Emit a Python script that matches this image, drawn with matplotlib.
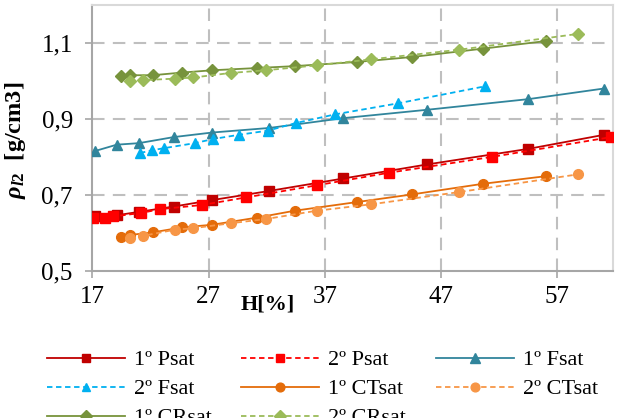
import matplotlib
matplotlib.use("Agg")
import matplotlib.pyplot as plt
from matplotlib.lines import Line2D

plt.rcParams['font.family'] = ['Liberation Serif', 'DejaVu Serif']
plt.rcParams['mathtext.fontset'] = 'custom'
plt.rcParams['mathtext.it'] = 'Liberation Serif:italic:bold'
plt.rcParams['mathtext.rm'] = 'Liberation Serif:bold'
plt.rcParams['mathtext.bf'] = 'Liberation Serif:bold'

# ---- data ----
x_1PF = [17.2, 19.1, 21.0, 24.0, 27.3, 32.2, 38.6, 45.8, 54.5, 61.0]
psat_1 = [0.643, 0.646, 0.655, 0.669, 0.686, 0.710, 0.743, 0.780, 0.821, 0.858]
fsat_1 = [0.815, 0.832, 0.836, 0.852, 0.864, 0.876, 0.902, 0.924, 0.952, 0.980]

x_2P = [17.1, 18.1, 18.8, 21.2, 22.8, 26.4, 30.2, 36.3, 42.5, 51.4, 61.6]
psat_2 = [0.640, 0.638, 0.643, 0.652, 0.662, 0.673, 0.693, 0.725, 0.758, 0.800, 0.852]

x_2F = [21.1, 22.1, 23.2, 25.8, 27.4, 29.6, 32.1, 34.5, 37.9, 43.3, 50.8]
fsat_2 = [0.810, 0.817, 0.823, 0.836, 0.847, 0.858, 0.869, 0.889, 0.912, 0.941, 0.986]

x_1CC = [19.5, 20.2, 22.2, 24.7, 27.3, 31.2, 34.4, 39.8, 44.5, 50.6, 56.0]
ctsat_1 = [0.588, 0.594, 0.601, 0.614, 0.621, 0.640, 0.658, 0.681, 0.701, 0.729, 0.749]
crsat_1 = [1.012, 1.015, 1.015, 1.022, 1.028, 1.034, 1.039, 1.050, 1.063, 1.085, 1.105]

x_2CC = [20.2, 21.4, 24.1, 25.7, 28.9, 31.9, 36.3, 41.0, 48.5, 58.8]
ctsat_2 = [0.585, 0.592, 0.608, 0.612, 0.625, 0.636, 0.658, 0.675, 0.707, 0.754]
crsat_2 = [1.000, 1.002, 1.006, 1.009, 1.021, 1.028, 1.041, 1.057, 1.082, 1.124]

x_ticks = [17, 27, 37, 47, 57]
y_ticks = [0.5, 0.7, 0.9, 1.1]
y_tick_labels = ['0,5', '0,7', '0,9', '1,1']

series = [
    ('1º Psat', x_1PF, psat_1, '#C00000', '-', 's', 7),
    ('2º Psat', x_2P, psat_2, '#FF0000', '--', 's', 7),
    ('1º Fsat', x_1PF, fsat_1, '#31859C', '-', '^', 7.5),
    ('2º Fsat', x_2F, fsat_2, '#00B0F0', '--', '^', 7),
    ('1º CTsat', x_1CC, ctsat_1, '#E46C0A', '-', 'o', 7),
    ('2º CTsat', x_2CC, ctsat_2, '#F79646', '--', 'o', 7),
    ('1º CRsat', x_1CC, crsat_1, '#77933C', '-', 'D', 6.5),
    ('2º CRsat', x_2CC, crsat_2, '#9BBB59', '--', 'D', 6.5),
]

fig = plt.figure(figsize=(6.21, 4.18), dpi=100)
ax = fig.add_axes([92.3/621, 1-270.7/418, (613.3-92.3)/621, (270.7-5)/418])

handles = {}
for name, xs, ys, col, ls, mk, ms in series:
    dash = dict(dashes=(3, 2)) if ls == '--' else {}
    ax.plot(xs, ys, color=col, linestyle=ls, lw=1.3, marker=mk,
            markersize=ms, markerfacecolor=col, markeredgecolor=col,
            clip_on=True, zorder=3, **dash)
    handles[name] = Line2D([0], [0], color=col, linestyle=ls, lw=1.3, marker=mk,
                           markersize=ms*0.9, markerfacecolor=col,
                           markeredgecolor=col, **dash)

ax.set_xlim(17, 61.8)
ax.set_ylim(0.5, 1.2)
ax.set_xticks(x_ticks)
ax.set_xticklabels([str(t) for t in x_ticks])
ax.set_yticks(y_ticks)
ax.set_yticklabels(y_tick_labels)
ax.tick_params(axis='both', labelsize=18, length=5, width=1.2, color='#a6a6a6',
               direction='out')
ax.tick_params(axis='y', pad=9)
ax.tick_params(axis='x', pad=6)

for t in [27, 37, 47, 57]:
    ax.axvline(t, color='#bfbfbf', lw=1.5, dashes=(6, 4), zorder=1)
for t in [0.7, 0.9, 1.1]:
    ax.axhline(t, color='#bfbfbf', lw=1.5, dashes=(6, 4), zorder=1)

for s in ['left', 'bottom']:
    ax.spines[s].set_color('#a6a6a6')
    ax.spines[s].set_linewidth(1.5)
for s in ['top', 'right']:
    ax.spines[s].set_color('#d9d9d9')
    ax.spines[s].set_linewidth(1.5)

fig.text(268/621, 1-304/418, 'H[%]', ha='center', va='center',
         fontsize=16, fontweight='bold')
fig.text(16/621, 1-140/418, r'$\rho_{l2}$  [g/cm3]', ha='center', va='center',
         rotation=90, fontsize=17.5, fontweight='bold')

order = ['1º Psat', '2º Fsat', '1º CRsat', '2º Psat', '1º CTsat', '2º CRsat',
         '1º Fsat', '2º CTsat']
leg = fig.legend([handles[n] for n in order], order, ncol=3, frameon=False,
                 fontsize=16, loc='upper left', bbox_to_anchor=(38/621, 1-341/418),
                 handlelength=3.5, handletextpad=0.4, columnspacing=1.35,
                 labelspacing=0.38, borderaxespad=0)

fig.savefig('out.png', dpi=100)
